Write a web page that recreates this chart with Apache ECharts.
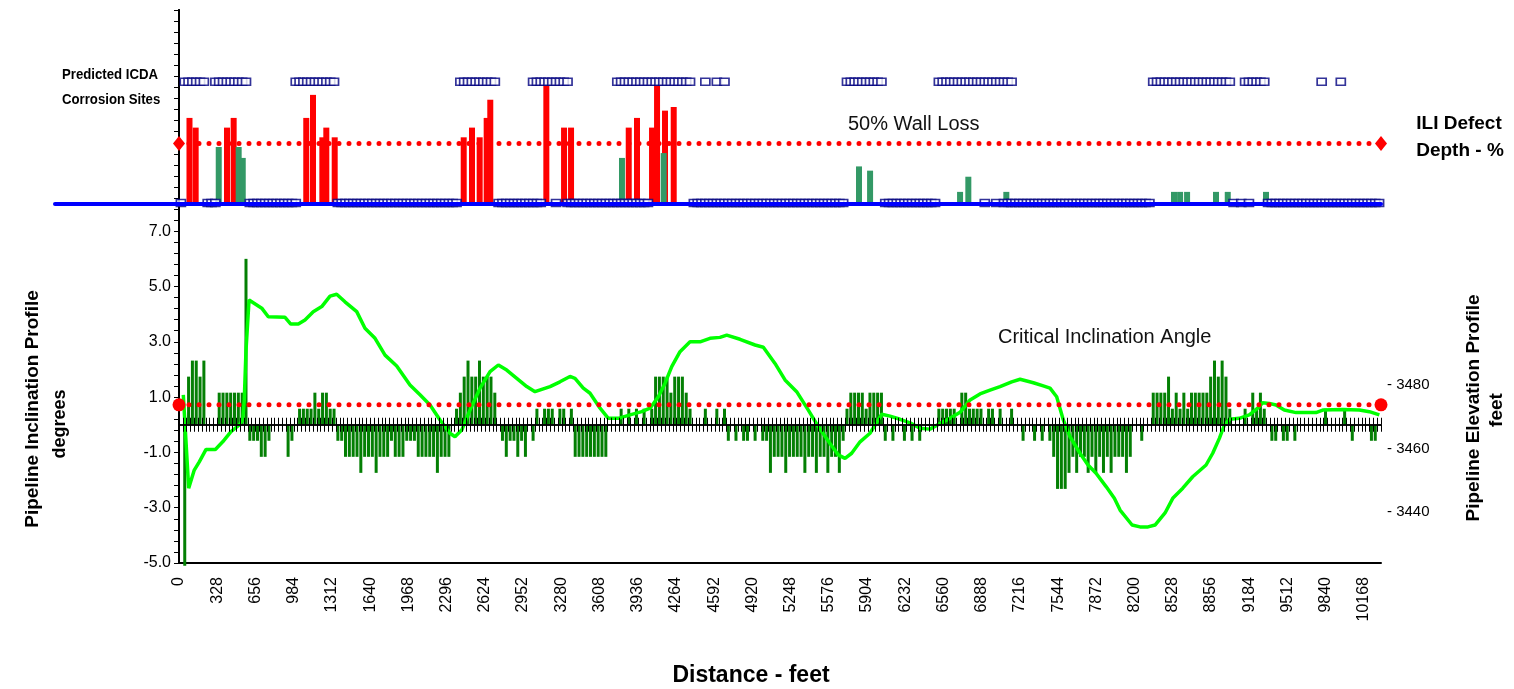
<!DOCTYPE html>
<html>
<head>
<meta charset="utf-8">
<title>ICDA inclination / elevation profile</title>
<script src="https://cdn.jsdelivr.net/npm/echarts@6/dist/echarts.min.js"></script>
<style>
  html, body { margin: 0; padding: 0; background: #fff; }
  #chart { width: 1514px; height: 689px; }
</style>
</head>
<body>
<div id="chart"></div>
<script>
// sample stations along the line, metres (one inclination bar per station)
const stations = [
  0,10,20,30,40,50,60,70,80,90,100,110,120,130,140,150,160,170,180,190,
  200,210,220,230,240,250,260,270,280,290,300,310,320,330,340,350,360,370,380,390,
  400,410,420,430,440,450,460,470,480,490,500,510,520,530,540,550,560,570,580,590,
  600,610,620,630,640,650,660,670,680,690,700,710,720,730,740,750,760,770,780,790,
  800,810,820,830,840,850,860,870,880,890,900,910,920,930,940,950,960,970,980,990,
  1000,1010,1020,1030,1040,1050,1060,1070,1080,1090,1100,1110,1120,1130,1140,1150,1160,1170,1180,1190,
  1200,1210,1220,1230,1240,1250,1260,1270,1280,1290,1300,1310,1320,1330,1340,1350,1360,1370,1380,1390,
  1400,1410,1420,1430,1440,1450,1460,1470,1480,1490,1500,1510,1520,1530,1540,1550,1560,1570,1580,1590,
  1600,1610,1620,1630,1640,1650,1660,1670,1680,1690,1700,1710,1720,1730,1740,1750,1760,1770,1780,1790,
  1800,1810,1820,1830,1840,1850,1860,1870,1880,1890,1900,1910,1920,1930,1940,1950,1960,1970,1980,1990,
  2000,2010,2020,2030,2040,2050,2060,2070,2080,2090,2100,2110,2120,2130,2140,2150,2160,2170,2180,2190,
  2200,2210,2220,2230,2240,2250,2260,2270,2280,2290,2300,2310,2320,2330,2340,2350,2360,2370,2380,2390,
  2400,2410,2420,2430,2440,2450,2460,2470,2480,2490,2500,2510,2520,2530,2540,2550,2560,2570,2580,2590,
  2600,2610,2620,2630,2640,2650,2660,2670,2680,2690,2700,2710,2720,2730,2740,2750,2760,2770,2780,2790,
  2800,2810,2820,2830,2840,2850,2860,2870,2880,2890,2900,2910,2920,2930,2940,2950,2960,2970,2980,2990,
  3000,3010,3020,3030,3040,3050,3060,3070,3080,3090,3100,3110,3120,3130
];

// pipeline inclination per station, degrees
const inclination = [
  0,
  -5.1, 1.74, 2.32, 2.32, 1.74, 2.32, 0, 0, 0, 1.16,
  1.16, 1.16, 1.16, 1.16, 1.16, 1.16, 6.0, -0.58, -0.58, -0.58,
  -1.16, -1.16, -0.58, 0, 0, 0, 0, -1.16, -0.58, 0,
  0.58, 0.58, 0.58, 0.58, 1.16, 0.58, 1.16, 1.16, 0.58, 0.58,
  -0.58, -0.58, -1.16, -1.16, -1.16, -1.16, -1.74, -1.16, -1.16, -1.16,
  -1.74, -1.16, -1.16, -1.16, -0.58, -1.16, -1.16, -1.16, -0.58, -0.58,
  -0.58, -1.16, -1.16, -1.16, -1.16, -1.16, -1.74, -1.16, -1.16, -1.16,
  0, 0.58, 1.16, 1.74, 2.32, 1.74, 1.74, 2.32, 1.74, 1.74,
  1.74, 1.16, 0, -0.58, -1.16, -0.58, -0.58, -1.16, -0.58, -1.16,
  0, -0.58, 0.58, 0, 0.58, 0.58, 0.58, 0, 0.58, 0.58,
  0, 0.58, -1.16, -1.16, -1.16, -1.16, -1.16, -1.16, -1.16, -1.16,
  -1.16, 0, 0, 0, 0.58, 0, 0.58, 0, 0.58, 0,
  0.58, 0, 0.58, 1.74, 1.74, 1.74, 1.74, 1.16, 1.74, 1.74,
  1.74, 1.16, 0.58, 0, 0, 0, 0.58, 0, 0, 0.58,
  0, 0.58, -0.58, 0, -0.58, 0, -0.58, -0.58, 0, -0.58,
  0, -0.58, -0.58, -1.74, -1.16, -1.16, -1.16, -1.74, -1.16, -1.16,
  -1.16, -1.16, -1.74, -1.16, -1.16, -1.74, -1.16, -1.16, -1.74, -1.16,
  -1.16, -1.74, -0.58, 0.58, 1.16, 1.16, 1.16, 1.16, 0.58, 1.16,
  1.16, 1.16, 1.16, -0.58, 0, -0.58, 0, 0, -0.58, 0,
  -0.58, 0, -0.58, 0, 0, 0, 0, 0.58, 0.58, 0.58,
  0.58, 0.58, 0, 1.16, 1.16, 0.58, 0.58, 0.58, 0.58, 0,
  0.58, 0.58, 0, 0.58, 0, 0, 0.58, 0, 0, -0.58,
  0, 0, -0.58, 0, -0.58, 0, -0.58, -1.16, -2.32, -2.32,
  -2.32, -1.74, -1.16, -1.74, -1.16, -1.16, -1.74, -1.16, -1.74, -1.16,
  -1.74, -1.16, -1.74, -1.16, -1.16, -1.16, -1.74, -1.16, 0, 0,
  -0.58, 0, 0, 1.16, 1.16, 1.16, 1.16, 1.74, 0.58, 1.16,
  0.58, 1.16, 0.58, 1.16, 1.16, 1.16, 1.16, 1.16, 1.74, 2.32,
  1.74, 2.32, 1.74, 0.58, 0, 0, 0, 0.58, 0, 1.16,
  0.58, 1.16, 0.58, 0, -0.58, -0.58, 0, -0.58, -0.58, 0,
  -0.58, 0, 0, 0, 0, 0, 0, 0, 0.58, 0,
  0, 0, 0, 0.58, 0, -0.58, 0, 0, 0, 0,
  -0.58, -0.58, 0
];

// predicted ICDA corrosion sites (station, m)
const icdaTop = [
  10,20,30,40,50,60, 90,100,110,120,130,140,150,160,170,
  300,310,320,330,340,350,360,370,380,390,400,
  730,740,750,760,770,780,790,800,810,820,
  920,930,940,950,960,970,980,990,1000,1010,
  1140,1150,1160,1170,1180,1190,1200,1210,1220,1230,1240,1250,1260,1270,1280,1290,1300,1310,1320,1330,
  1370,1400,1420,
  1740,1750,1760,1770,1780,1790,1800,1810,1820,1830,
  1980,1990,2000,2010,2020,2030,2040,2050,2060,2070,2080,2090,2100,2110,2120,2130,2140,2150,2160,2170,
  2540,2550,2560,2570,2580,2590,2600,2610,2620,2630,2640,2650,2660,2670,2680,2690,2700,2710,2720,2730,2740,
  2780,2790,2800,2810,2820,2830, 2980, 3030
];
const icdaBase = [
  0, 70,80,90,
  180,190,200,210,220,230,240,250,260,270,280,290,300,
  410,420,430,440,450,460,470,480,490,500,510,520,530,540,550,560,570,580,590,600,610,620,630,640,650,660,670,680,690,700,710,720,
  830,840,850,860,870,880,890,900,910,920,930,940, 980,
  1010,1020,1030,1040,1050,1060,1070,1080,1090,1100,1110,1120,1130,1140,1150,1160,1170,1180,1190,1200,1210,1220,
  1340,1350,1360,1370,1380,1390,1400,1410,1420,1430,1440,1450,1460,1470,1480,1490,1500,1510,1520,1530,
  1540,1550,1560,1570,1580,1590,1600,1610,1620,1630,1640,1650,1660,1670,1680,1690,1700,1710,1720,1730,
  1840,1850,1860,1870,1880,1890,1900,1910,1920,1930,1940,1950,1960,1970, 2100, 2130,
  2150,2160,2170,2180,2190,2200,2210,2220,2230,2240,2250,2260,2270,2280,2290,2300,2310,2320,2330,2340,
  2350,2360,2370,2380,2390,2400,2410,2420,2430,2440,2450,2460,2470,2480,2490,2500,2510,2520,2530,
  2750,2770,2790,
  2840,2850,2860,2870,2880,2890,2900,2910,2920,2930,2940,2950,2960,2970,2980,2990,
  3000,3010,3020,3030,3040,3050,3060,3070,3080,3090,3100,3110,3120,3130
];
const ICDA_TOP_ROW = 100.8;
const ICDA_BASE_ROW = 0.8;

// ILI defect depth, % wall loss (distance in feet)
const iliDeepDist = [90,143,412,469,1092,1150,1230,1264,1336,2443,2514,2580,2640,2671,3152,3304,3364,3859,3930,4059,4102,4170,4245];
const iliDeepPct  = [71,63,63,71,71,90,55,63,55,55,63,55,71,86,98,63,63,63,71,63,98,77,80];
const iliShallowDist = [341,512,547,3801,4159,5835,5930,6702,6773,7099,8538,8590,8650,8898,8999,9327];
const iliShallowPct  = [47,47,38,38,42,31,27.5,10,22.5,10,10,10,10,10,10,10];

// pipeline elevation profile (distance ft, elevation ft)
const elevDist = [37,83,131,174,232,312,375,446,517,547,
  560,575,601,710,766,910,959,1024,1081,1152,
  1225,1296,1353,1424,1525,1596,1682,1768,1868,1982,
  2068,2154,2240,2325,2368,2426,2497,2583,2669,2740,
  2812,2898,2984,3055,3184,3269,3355,3398,3469,3527,
  3613,3684,3770,3870,3970,4042,4113,4170,4228,4299,
  4385,4471,4556,4642,4700,4814,4943,5014,5114,5200,
  5300,5400,5486,5586,5657,5715,5772,5844,5929,6030,
  6101,6187,6273,6358,6444,6530,6616,6702,6788,6873,
  6959,7045,7145,7217,7331,7416,7474,7531,7588,7646,
  7731,7800,7869,7955,8026,8075,8178,8246,8315,8375,
  8461,8527,8613,8698,8813,8870,8927,8970,9013,9098,
  9184,9256,9299,9356,9413,9484,9585,9756,9814,9986,
  10128,10214,10300];
const elevFt = [3476.9,3447.5,3453.2,3455.8,3459.7,3459.7,3462.1,3465.3,3467.4,3469.0,
  3475.3,3491.0,3506.8,3504.2,3501.5,3501.3,3499.2,3499.2,3500.5,3503.1,
  3504.7,3508.0,3508.6,3506.2,3503.1,3497.9,3494.7,3489.4,3486.0,3480.0,
  3476.9,3473.7,3469.0,3464.8,3463.7,3465.8,3472.1,3479.0,3484.2,3486.3,
  3484.7,3482.1,3479.5,3477.9,3479.5,3481.0,3482.7,3482.1,3479.0,3477.4,
  3472.7,3469.5,3469.5,3470.6,3471.6,3472.7,3476.3,3480.5,3485.8,3490.5,
  3493.6,3493.6,3494.7,3495.0,3495.7,3494.4,3492.6,3491.9,3486.8,3481.6,
  3477.9,3472.1,3466.9,3461.6,3458.0,3456.9,3458.5,3462.1,3464.8,3470.8,
  3470.2,3469.2,3468.1,3466.4,3466.1,3467.9,3469.5,3471.4,3475.3,3477.2,
  3478.4,3479.5,3481.0,3481.8,3480.7,3479.7,3479.0,3476.3,3469.0,3463.7,
  3458.5,3454.8,3452.2,3448.0,3444.3,3440.6,3435.9,3435.3,3435.3,3435.9,
  3439.7,3444.3,3447.5,3451.1,3454.8,3458.5,3463.2,3467.4,3469.2,3469.5,
  3470.6,3472.7,3474.4,3474.2,3473.7,3472.1,3471.3,3471.3,3472.1,3472.3,
  3472.1,3471.6,3470.6];

const CRITICAL_ANGLE = 0.72;
const WALL_LOSS_LIMIT = 50;
const X_MAX = 10314;
const elevTicks = [3440, 3460, 3480];

const FONT = "'Liberation Sans', Arial, sans-serif";
const stationLabels = stations.map(String);
const pairs = (a, b) => a.map((v, i) => [v, b[i]]);

const chart = echarts.init(document.getElementById('chart'));

// zero line with ticks crossing it: one axis ticks down, a twin ticks up
const zeroAxis = (grid, inside) => ({
  gridIndex: grid, type: 'category', data: stationLabels, position: 'bottom', z: 5,
  axisLine: { show: true, onZero: true, lineStyle: { color: '#000', width: 1.5 } },
  axisTick: { show: true, interval: 0, length: 7, inside: inside,
    lineStyle: { color: '#000', width: 1 } },
  axisLabel: { show: false }
});

const option = {
  animation: false,
  textStyle: { fontFamily: FONT },
  grid: [
    { left: 179, right: 133, top: 10, bottom: 126 },   // inclination bars
    { left: 179, right: 133, top: 10, bottom: 126 },   // distance axis
    { left: 179, right: 133, top: 10, bottom: 485 },   // ILI depth
    { left: 179, right: 133, top: 10, bottom: 485 },   // ICDA sites
    { left: 179, right: 133, top: 4, bottom: 113.5 },  // elevation
    { left: 55, right: 133, top: 10, bottom: 485 },    // blue base line
    { left: 179, right: 133, top: 10, bottom: 126 }    // upward zero ticks
  ],
  xAxis: [
    zeroAxis(0, false),
    zeroAxis(6, true),
    { gridIndex: 1, type: 'value', min: 0, max: X_MAX, interval: 328,
      axisLine: { onZero: false, lineStyle: { color: '#000', width: 2 } },
      axisTick: { show: false }, splitLine: { show: false },
      axisLabel: { rotate: 90, fontSize: 16, color: '#000', margin: 14, showMaxLabel: false,
        formatter: v => String(v) } },
    { gridIndex: 2, type: 'value', min: 0, max: X_MAX, show: false },
    { gridIndex: 3, type: 'category', data: stationLabels, show: false },
    { gridIndex: 4, type: 'value', min: 0, max: X_MAX, show: false },
    { gridIndex: 5, type: 'value', min: 0, max: 1, z: 10,
      axisLine: { onZero: false, lineStyle: { color: '#0000FF', width: 4 } },
      axisTick: { show: false }, axisLabel: { show: false }, splitLine: { show: false } }
  ],
  yAxis: [
    { gridIndex: 0, type: 'value', min: -5, max: 15, interval: 2,
      axisLine: { show: true, lineStyle: { color: '#000', width: 2 } },
      axisTick: { show: true, length: 5, lineStyle: { color: '#000' } },
      minorTick: { show: true, splitNumber: 5, length: 5, lineStyle: { color: '#000' } },
      splitLine: { show: false },
      axisLabel: { fontSize: 16, color: '#000', margin: 8,
        formatter: v => (v <= 7 ? v.toFixed(1) : '') } },
    { gridIndex: 1, type: 'value', min: -5, max: 15, position: 'right',
      axisLine: { show: true, lineStyle: { color: '#000', width: 2 } },
      axisTick: { show: false }, axisLabel: { show: false }, splitLine: { show: false } },
    { gridIndex: 2, type: 'value', min: 0, max: 160, show: false },
    { gridIndex: 3, type: 'value', min: 0, max: 160, show: false },
    { gridIndex: 4, type: 'value', min: 3420, max: 3600, interval: 20, position: 'right',
      axisLine: { show: false }, axisTick: { show: false }, splitLine: { show: false },
      axisLabel: { fontSize: 15, color: '#000', margin: 6,
        formatter: v => (elevTicks.includes(v) ? '- ' + v : '') } },
    { gridIndex: 5, type: 'value', show: false },
    { gridIndex: 6, type: 'value', min: -5, max: 15,
      axisLine: { show: false }, axisTick: { show: false }, axisLabel: { show: false },
      splitLine: { show: false } }
  ],
  series: [
    { name: 'Inclination', type: 'bar', xAxisIndex: 0, yAxisIndex: 0,
      data: inclination, barWidth: 3, clip: false,
      itemStyle: { color: '#047f04' }, z: 2 },
    { name: 'Elevation', type: 'line', xAxisIndex: 5, yAxisIndex: 4,
      data: pairs(elevDist, elevFt), showSymbol: false, symbol: 'none',
      lineStyle: { color: '#00ff00', width: 3.5 }, z: 4 },
    { name: 'Critical Inclination Angle', type: 'line', xAxisIndex: 2, yAxisIndex: 1,
      data: [[0, CRITICAL_ANGLE], [X_MAX, CRITICAL_ANGLE]],
      symbol: 'circle', symbolSize: 13, itemStyle: { color: '#ff0000' },
      lineStyle: { color: '#ff0000', width: 5, type: [0, 10], cap: 'round' }, z: 6 },
    { name: 'ILI deep', type: 'bar', xAxisIndex: 3, yAxisIndex: 2,
      data: pairs(iliDeepDist, iliDeepPct), barWidth: 6, barGap: '-100%',
      itemStyle: { color: '#ff0000' }, z: 2 },
    { name: 'ILI shallow', type: 'bar', xAxisIndex: 3, yAxisIndex: 2,
      data: pairs(iliShallowDist, iliShallowPct), barWidth: 6, barGap: '-100%',
      itemStyle: { color: '#339966' }, z: 3 },
    { name: '50% Wall Loss', type: 'line', xAxisIndex: 3, yAxisIndex: 2,
      data: [[0, WALL_LOSS_LIMIT], [X_MAX, WALL_LOSS_LIMIT]],
      symbol: 'diamond', symbolSize: [12, 15], itemStyle: { color: '#ff0000' },
      lineStyle: { color: '#ff0000', width: 5, type: [0, 10], cap: 'round' }, z: 6 },
    { name: 'ICDA top', type: 'scatter', xAxisIndex: 4, yAxisIndex: 3,
      data: icdaTop.map(s => [String(s), ICDA_TOP_ROW]),
      symbol: 'rect', symbolSize: [9, 7],
      itemStyle: { color: '#fff', borderColor: '#000080', borderWidth: 1.5 }, z: 4 },
    { name: 'ICDA base', type: 'scatter', xAxisIndex: 4, yAxisIndex: 3,
      data: icdaBase.map(s => [String(s), ICDA_BASE_ROW]),
      symbol: 'rect', symbolSize: [9, 7],
      itemStyle: { color: '#fff', borderColor: '#000080', borderWidth: 1.5 }, z: 4 }
  ],
  graphic: [
    { type: 'text', x: 62, y: 75, scaleX: 0.88,
      style: { text: 'Predicted ICDA', font: 'bold 15px ' + FONT, fill: '#000', textVerticalAlign: 'middle' } },
    { type: 'text', x: 62, y: 100, scaleX: 0.88,
      style: { text: 'Corrosion Sites', font: 'bold 15px ' + FONT, fill: '#000', textVerticalAlign: 'middle' } },
    { type: 'text', x: 1459, y: 124,
      style: { text: 'ILI Defect', font: 'bold 19px ' + FONT, fill: '#000', textAlign: 'center', textVerticalAlign: 'middle' } },
    { type: 'text', x: 1460, y: 151,
      style: { text: 'Depth - %', font: 'bold 19px ' + FONT, fill: '#000', textAlign: 'center', textVerticalAlign: 'middle' } },
    { type: 'text', x: 848, y: 124,
      style: { text: '50% Wall Loss', font: '20px ' + FONT, fill: '#111', textVerticalAlign: 'middle' } },
    { type: 'text', x: 998, y: 337,
      style: { text: 'Critical Inclination Angle', font: '20px ' + FONT, fill: '#111', textVerticalAlign: 'middle' } },
    { type: 'text', x: 33, y: 409, rotation: Math.PI / 2,
      style: { text: 'Pipeline Inclination Profile', font: 'bold 19px ' + FONT, fill: '#000', textAlign: 'center', textVerticalAlign: 'middle' } },
    { type: 'text', x: 60, y: 424, rotation: Math.PI / 2,
      style: { text: 'degrees', font: 'bold 18px ' + FONT, fill: '#000', textAlign: 'center', textVerticalAlign: 'middle' } },
    { type: 'text', x: 1474, y: 408, rotation: Math.PI / 2,
      style: { text: 'Pipeline Elevation Profile', font: 'bold 19px ' + FONT, fill: '#000', textAlign: 'center', textVerticalAlign: 'middle' } },
    { type: 'text', x: 1497, y: 410, rotation: Math.PI / 2,
      style: { text: 'feet', font: 'bold 19px ' + FONT, fill: '#000', textAlign: 'center', textVerticalAlign: 'middle' } },
    { type: 'text', x: 751, y: 676,
      style: { text: 'Distance - feet', font: 'bold 23px ' + FONT, fill: '#000', textAlign: 'center', textVerticalAlign: 'middle' } }
  ]
};

chart.setOption(option);
</script>
</body>
</html>
